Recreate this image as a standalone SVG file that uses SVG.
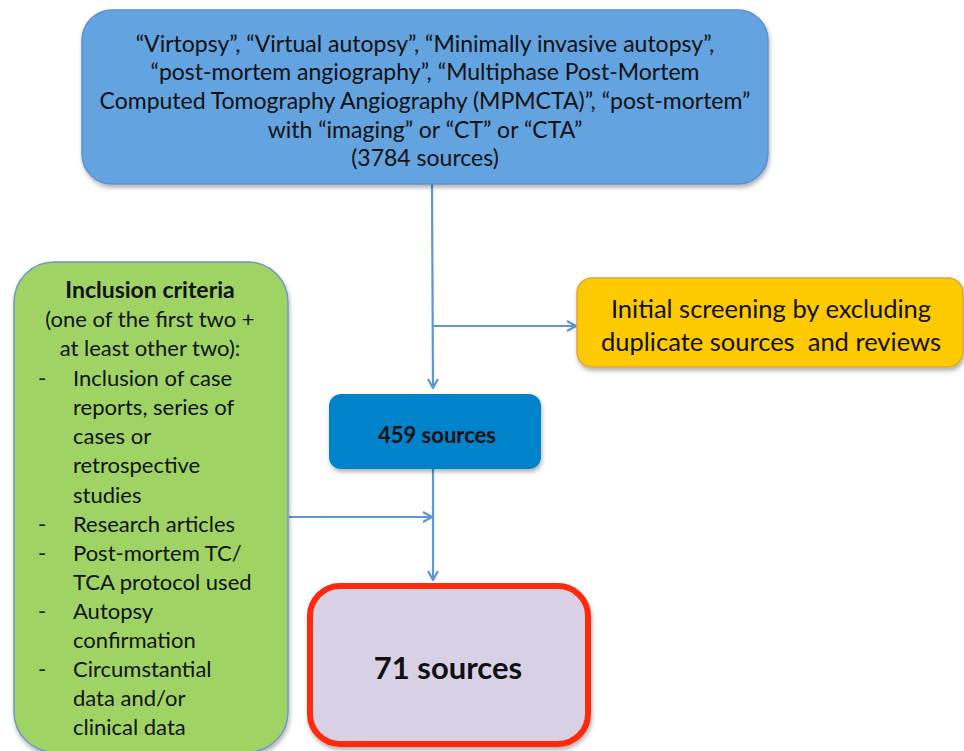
<svg xmlns="http://www.w3.org/2000/svg" width="964" height="751" viewBox="0 0 964 751">
<defs>
<style>
text{font-family:Lato,"Liberation Sans",sans-serif;fill:#111}
.t{font-size:23px;text-anchor:middle}
.y{font-size:25.5px;text-anchor:middle}
.g{font-size:22px}
.c{stroke:#5f95d3;stroke-width:2.2;fill:none}
</style>
<marker id="ah" viewBox="0 0 12 12" refX="11" refY="6" markerWidth="12" markerHeight="12" markerUnits="userSpaceOnUse" orient="auto">
<path d="M2,1 L11,6 L2,11" fill="none" stroke="#5f95d3" stroke-width="2.2"/>
</marker>
<filter id="sh" x="-5%" y="-5%" width="110%" height="115%">
<feDropShadow dx="1" dy="3" stdDeviation="2" flood-color="#000" flood-opacity="0.3"/>
</filter>
</defs>
<rect width="964" height="751" fill="#fff"/>
<g id="connectors">
<path class="c" d="M432,184 L433,388" marker-end="url(#ah)"/>
<path class="c" d="M433,326 L576,326" marker-end="url(#ah)"/>
<path class="c" d="M433,469 L433,580" marker-end="url(#ah)"/>
<path class="c" d="M289,517 L432,517" marker-end="url(#ah)"/>
</g>
<g id="search">
<rect x="82" y="10" width="686" height="174" rx="30" fill="#64a3e0" stroke="#5d92cf" stroke-width="1.5" filter="url(#sh)"/>
<text class="t" x="425" y="52">“Virtopsy”, “Virtual autopsy”, “Minimally invasive autopsy”,</text>
<text class="t" x="425" y="80">“post-mortem angiography”, “Multiphase Post-Mortem</text>
<text class="t" x="425" y="109">Computed Tomography Angiography (MPMCTA)”, “post-mortem”</text>
<text class="t" x="425" y="138">with “imaging” or “CT” or “CTA”</text>
<text class="t" x="425" y="166">(3784 sources)</text>
</g>
<g id="screening">
<rect x="577" y="278" width="386" height="89" rx="15" fill="#fdca00" stroke="#dca642" stroke-width="1.5" filter="url(#sh)"/>
<text class="y" x="771" y="318">Initial screening by excluding</text>
<text class="y" x="771" y="351" xml:space="preserve">duplicate sources  and reviews</text>
</g>
<g id="s459">
<rect x="329" y="394" width="212" height="75" rx="12" fill="#0083cb" filter="url(#sh)"/>
<text x="437" y="443" style="font-size:22px;font-weight:bold;text-anchor:middle">459 sources</text>
</g>
<g id="criteria">
<rect x="14" y="262" width="274" height="490" rx="40" fill="#9fd465" stroke="#6f98c8" stroke-width="1.5" filter="url(#sh)"/>
<text x="150" y="298" style="font-size:23px;font-weight:bold;text-anchor:middle">Inclusion criteria</text>
<text class="g" x="150" y="327" text-anchor="middle">(one of the first two +</text>
<text class="g" x="150" y="356" text-anchor="middle">at least other two):</text>
<text class="g" x="38" y="386">-</text><text class="g" x="73" y="386">Inclusion of case</text>
<text class="g" x="73" y="415">reports, series of</text>
<text class="g" x="73" y="444">cases or</text>
<text class="g" x="73" y="473">retrospective</text>
<text class="g" x="73" y="503">studies</text>
<text class="g" x="38" y="532">-</text><text class="g" x="73" y="532">Research articles</text>
<text class="g" x="38" y="561">-</text><text class="g" x="73" y="561">Post-mortem TC/</text>
<text class="g" x="73" y="590">TCA protocol used</text>
<text class="g" x="38" y="619">-</text><text class="g" x="73" y="619">Autopsy</text>
<text class="g" x="73" y="648">confirmation</text>
<text class="g" x="38" y="677">-</text><text class="g" x="73" y="677">Circumstantial</text>
<text class="g" x="73" y="706">data and/or</text>
<text class="g" x="73" y="735">clinical data</text>
</g>
<g id="s71">
<rect x="310" y="586" width="278" height="158" rx="30" fill="#d8d0e5" stroke="#fd2b0a" stroke-width="6" filter="url(#sh)"/>
<text x="448" y="679" style="font-size:31px;font-weight:bold;text-anchor:middle">71 sources</text>
</g>
</svg>
